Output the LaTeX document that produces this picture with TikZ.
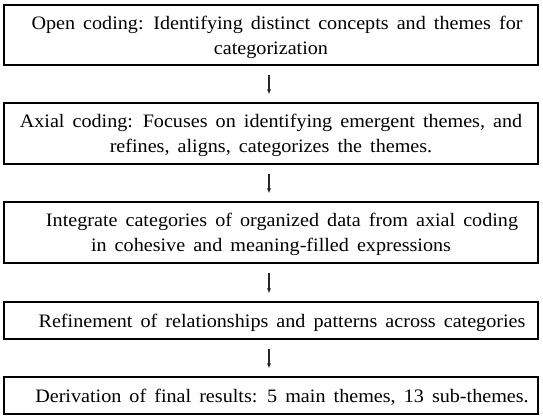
\documentclass[tikz,border=0pt]{standalone}
\usepackage{fontspec}
\setmainfont{Liberation Serif}[FakeStretch=1.06, WordSpace=1.6]
\usetikzlibrary{arrows.meta}
\begin{document}
\begin{tikzpicture}[x=1bp,y=-1bp,
  stagebox/.style={draw=black, line width=1.1bp, minimum width=534bp, inner sep=0pt,
    align=center, font=\fontsize{19bp}{25bp}\selectfont},
  oneline/.style={stagebox, text height=14bp, text depth=0pt},
  twoline/.style={stagebox, text height=38bp, text depth=0pt},
  flowarrow/.style={draw=black!85, line width=1.1bp, -{Latex[length=5bp,width=4bp]}}]
\useasboundingbox (0,0) rectangle (543,418);
\node[twoline, minimum height=60bp] (b1) at (271,35)
  {\hspace*{12bp}Open coding: Identifying distinct concepts and themes for\\categorization};
\node[twoline, minimum height=61bp] (b2) at (271,133.5)
  {Axial coding: Focuses on identifying emergent themes, and\\refines, aligns, categorizes the themes.};
\node[twoline, minimum height=61bp] (b3) at (271,232.5)
  {\hspace*{22bp}Integrate categories of organized data from axial coding\\in cohesive and meaning-filled expressions};
\node[oneline, minimum height=37bp] (b4) at (271,320.5)
  {\hspace*{22bp}Refinement of relationships and patterns across categories};
\node[oneline, minimum height=37bp] (b5) at (271,395.5)
  {\hspace*{22bp}Derivation of final results: 5 main themes, 13 sub-themes.};
\foreach \a/\b in {b1/b2,b2/b3,b3/b4,b4/b5}
  \draw[flowarrow] ([xshift=-2bp,yshift=-9bp]\a.south) -- ([xshift=-2bp,yshift=8bp]\b.north);
\end{tikzpicture}
\end{document}
